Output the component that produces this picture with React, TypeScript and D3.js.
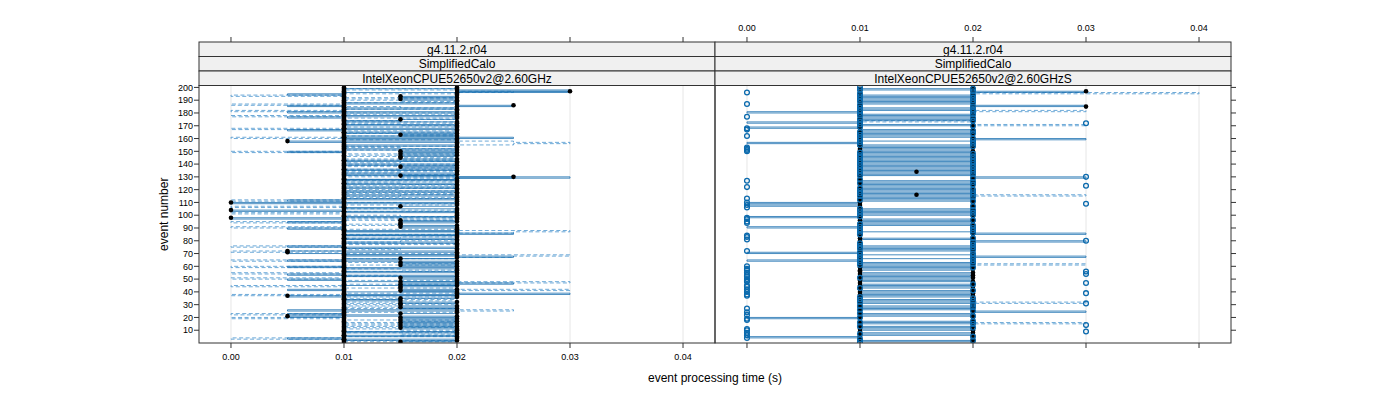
import React from "react";
import * as d3 from "d3";

// ---- data (times in milliseconds, one value per event 1..200) ----
const eventNumbers = d3.range(1, 201);
const xTickValues = [0, 0.01, 0.02, 0.03, 0.04];
const xTickLabels = ["0.00", "0.01", "0.02", "0.03", "0.04"];
const yTickValues = d3.range(10, 201, 10);
const stripVersion = "g4.11.2.r04";
const stripApp = "SimplifiedCalo";
const panelMachines = ["IntelXeonCPUE52650v2@2.60GHz", "IntelXeonCPUE52650v2@2.60GHzS"];

// Left panel, run A (black points + solid line)
const leftRunA = [
  10,10,10,10,10,10,10,10,10,10, 10,10,10,10,10,10,10,10,10,10,
  5,10,10,10,10,10,10,10,10,10, 10,10,10,10,10,10,5,10,10,10,
  10,10,10,10,10,10,10,10,10,10, 10,10,10,10,10,10,10,10,10,10,
  10,10,10,10,10,10,10,10,10,10, 5,5,10,10,10,10,10,10,10,10,
  10,10,10,10,10,10,10,10,10,10, 10,10,10,10,10,10,10,0,10,10,
  10,10,10,0,10,10,10,10,10,0, 10,10,10,10,10,10,10,10,10,10,
  10,10,10,10,10,10,10,10,10,10, 10,10,10,10,10,10,10,10,10,10,
  10,10,10,10,10,10,10,10,10,10, 10,10,10,10,10,10,10,5,10,10,
  10,10,10,10,10,10,10,10,10,10, 10,10,10,10,10,10,10,10,10,10,
  10,10,10,10,10,10,10,10,10,10, 10,10,10,10,10,10,10,10,10,10,
];
// Left panel, run B (black points + solid line)
const leftRunB = [
  15,20,10,20,20,10,20,20,10,20, 20,15,20,15,20,15,20,15,20,15,
  20,10,15,20,20,10,20,15,20,15, 15,20,15,10,15,20,20,10,20,20,
  15,20,15,15,20,15,20,15,20,20, 15,20,10,20,20,10,20,20,10,20,
  15,20,15,20,10,15,20,20,10,20, 20,10,20,20,10,20,20,20,10,20,
  20,10,20,20,10,20,20,10,20,20, 15,20,15,15,20,15,20,20,10,20,
  20,20,10,20,20,10,15,20,20,10, 20,20,10,20,20,10,20,20,10,20,
  20,10,20,20,10,20,20,10,20,25, 15,20,10,20,20,10,20,15,20,10,
  20,20,10,20,15,15,20,15,20,15, 20,10,20,20,10,20,20,10,20,20,
  10,20,15,20,10,20,20,10,20,20, 10,20,20,10,15,20,20,10,20,20,
  10,20,20,10,20,25,20,10,20,20, 15,20,15,20,20,20,30,20,20,20,
];
// Left panel, run C (solid line only)
const leftRunC = [
  10,10,10,5,10,10,10,10,10,10, 10,10,10,10,10,10,10,10,10,10,
  10,10,5,10,10,5,10,10,10,10, 10,10,10,10,10,10,10,20,30,20,
  10,5,10,10,10,20,25,20,10,5, 10,10,10,5,10,10,10,10,10,5,
  10,10,10,10,5,10,20,25,20,10, 10,10,10,10,10,5,10,10,10,10,
  10,10,10,10,20,25,20,10,10,5, 10,10,10,10,5,10,10,10,10,10,
  10,10,10,10,10,10,10,10,10,10, 10,5,10,10,10,10,10,10,10,10,
  10,10,10,10,10,10,10,10,20,30, 20,10,10,10,10,10,10,10,10,10,
  10,10,10,10,10,10,10,10,10,5, 10,10,10,10,10,10,10,10,10,20,
  25,20,10,10,10,10,5,10,10,10, 10,10,10,10,10,10,5,10,10,10,
  5,10,10,10,10,5,10,10,10,10, 10,10,10,10,5,10,20,30,20,10,
];
// Left panel, run D (dashed line only)
const leftRunD = [
  10,20,10,0,10,20,15,20,10,20, 15,10,20,10,20,10,15,20,10,0,
  10,10,0,10,20,25,20,10,15,10, 20,10,15,20,10,20,10,0,10,20,
  20,30,20,10,0,10,20,30,20,10, 0,10,15,10,0,10,20,15,10,0,
  10,20,15,10,0,10,20,25,30,20, 10,0,10,15,10,0,10,20,10,15,
  20,10,15,20,10,20,25,30,20,10, 0,10,15,10,0,10,20,10,20,15,
  10,0,10,20,15,10,0,10,20,15, 10,0,10,20,10,15,20,10,20,10,
  15,20,10,20,15,10,20,10,15,20, 10,20,15,10,20,10,20,15,10,20,
  10,15,20,10,20,15,10,20,10,0, 10,20,15,10,20,25,30,25,20,10,
  0,10,20,15,10,20,10,0,10,20, 15,10,20,10,15,20,10,0,10,20,
  10,0,10,20,15,10,0,10,20,15, 10,20,10,0,10,20,25,20,10,20,
];

// Right panel, open-circle run
const rightOpen = [
  10,20,10,0,20,0,10,0,30,0, 0,20,10,30,20,10,20,0,0,10,
  20,0,10,0,20,10,0,20,10,20, 30,10,20,10,20,10,0,0,30,0,
  20,0,10,0,0,20,30,0,0,0, 10,0,0,30,0,30,0,0,20,0,
  10,20,10,20,10,20,10,20,10,20, 10,0,20,10,20,10,20,10,20,30,
  0,20,0,0,10,20,10,20,10,20, 10,20,10,0,0,20,0,0,10,20,
  10,20,10,20,10,0,20,0,30,0, 20,10,0,20,10,20,10,20,10,20,
  10,0,30,20,10,20,0,10,20,30, 10,20,10,20,10,20,10,20,10,20,
  10,20,10,20,10,20,10,20,10,0, 0,0,0,20,10,20,10,20,10,20,
  10,0,10,20,10,20,0,0,10,20, 10,30,10,20,10,20,0,10,20,10,
  20,10,20,10,20,10,0,20,10,20, 10,20,10,20,10,0,20,10,20,10,
];
// Right panel, filled-point run
const rightFilled = [
  20,10,20,10,10,20,10,20,10,20, 10,10,20,10,10,20,10,20,10,20,
  10,20,10,10,20,10,20,10,20,10, 10,20,10,20,10,10,20,10,20,10,
  20,10,10,20,10,20,10,20,10,10, 20,10,20,10,20,10,10,20,10,20,
  10,20,10,10,20,10,20,10,20,10, 10,20,10,20,10,20,10,10,20,10,
  20,10,20,10,10,20,10,20,10,20, 10,10,20,10,20,10,20,10,10,20,
  10,20,10,20,10,10,20,10,20,10, 20,10,10,20,10,15,20,10,20,10,
  10,20,10,20,10,10,20,10,20,10, 20,10,20,15,10,20,10,20,10,10,
  20,10,20,10,10,20,10,20,10,20, 10,10,20,10,20,10,20,10,10,20,
  10,20,10,20,10,10,20,10,20,10, 20,10,10,20,10,20,10,20,10,20,
  10,20,10,10,30,20,10,20,10,20, 10,10,20,10,20,10,30,20,10,20,
];
// Right panel, solid line run
const rightSolid = [
  10,20,10,10,0,10,20,10,20,20, 10,20,10,20,20,10,20,10,10,0,
  10,20,10,20,30,20,10,20,10,20, 20,10,20,10,20,20,10,20,10,20,
  10,20,20,10,20,10,20,20,10,20, 10,20,10,20,10,20,20,10,20,10,
  20,10,20,10,0,10,20,30,20,10, 0,10,20,10,20,10,20,20,20,30,
  20,10,20,20,20,30,20,10,10,10, 0,10,20,10,20,10,20,10,0,10,
  20,10,20,10,20,10,10,0,10,0, 10,20,10,20,10,20,10,20,10,20,
  10,20,10,20,10,20,10,20,20,30, 20,10,20,10,20,10,20,10,20,10,
  20,10,20,10,20,10,20,10,20,10, 20,10,20,10,20,10,0,10,20,30,
  20,10,20,10,20,10,20,10,0,10, 20,10,0,10,20,10,20,10,20,10,
  0,10,20,10,20,30,20,10,20,10, 20,10,20,10,20,20,30,20,10,20,
];
// Right panel, dashed line run
const rightDashed = [
  20,20,20,20,20,20,20,20,20,20, 20,20,20,20,20,30,20,20,20,20,
  20,20,20,20,20,20,20,20,20,20, 20,30,20,20,20,20,20,20,20,20,
  20,20,20,20,20,20,20,20,20,20, 20,20,20,20,20,20,20,20,20,20,
  20,30,20,20,20,20,20,20,20,20, 20,20,20,20,20,20,20,20,20,20,
  20,20,20,20,20,20,20,20,20,20, 20,20,20,20,20,20,20,20,20,20,
  20,20,20,20,20,20,20,20,20,20, 20,20,20,20,20,30,20,20,20,20,
  20,20,20,20,20,20,20,20,20,20, 20,20,20,20,20,20,20,20,20,20,
  20,20,20,20,20,20,20,20,20,20, 20,20,20,20,20,20,20,20,20,20,
  20,20,20,20,20,20,20,20,20,20, 30,20,20,10,20,20,20,20,20,20,
  20,30,20,20,20,20,20,20,20,20, 20,20,20,20,20,40,20,20,20,20,
];

// ---- layout ----
const FONT = "'Liberation Sans', Arial, Helvetica, sans-serif";
const PANEL_LEFTS = [199, 715];
const PW = 516;
const PT = 85.5;
const PB = 343;
const STRIP_TOP = 42;
const STRIP_H = (PT - STRIP_TOP) / 3;
const LINE_COLOR = "#1a6fb0";
const DASH_COLOR = "#3d8ecb";
const AXIS = "#333";

export default function App() {
  const x = d3.scaleLinear().domain([-0.00283, 0.04283]).range([0, PW]);
  const y = d3.scaleLinear().domain([0, 201.5]).range([PB, PT]);
  const lineGen = d3
    .line<number>()
    .x((d) => x(d / 1000))
    .y((_d, i) => y(eventNumbers[i]))
    .curve(d3.curveStepAfter);

  const solidPath = (vals: number[], key: string) => (
    <path key={key} d={lineGen(vals) || ""} fill="none" stroke={LINE_COLOR} strokeOpacity={0.8} strokeWidth={1} />
  );
  const dashedPath = (vals: number[], key: string) => (
    <path key={key} d={lineGen(vals) || ""} fill="none" stroke={DASH_COLOR} strokeOpacity={0.75} strokeWidth={1} strokeDasharray="4 2.5" />
  );
  const filledDots = (vals: number[], key: string) => (
    <g key={key}>
      {vals.map((v, i) => (
        <circle key={i} cx={x(v / 1000)} cy={y(eventNumbers[i])} r={2.3} fill="#000" />
      ))}
    </g>
  );
  const openDots = (vals: number[], key: string) => (
    <g key={key}>
      {vals.map((v, i) => (
        <circle key={i} cx={x(v / 1000)} cy={y(eventNumbers[i])} r={2.4} fill="none" stroke="#0b6aad" strokeWidth={1.3} />
      ))}
    </g>
  );

  const panelContent = [
    [dashedPath(leftRunD, "d"), solidPath(leftRunC, "c"), solidPath(leftRunA, "a"), solidPath(leftRunB, "b"), filledDots(leftRunA, "pa"), filledDots(leftRunB, "pb")],
    [dashedPath(rightDashed, "d"), solidPath(rightSolid, "s"), filledDots(rightFilled, "pf"), openDots(rightOpen, "po")],
  ];

  return (
    <div style={{ position: "absolute", left: 0, top: 0 }}>
      <svg width={1400} height={400} style={{ display: "block", background: "#fff" }} fontFamily={FONT}>
        <defs>
          {PANEL_LEFTS.map((_l, p) => (
            <clipPath id={`clip${p}`} key={p}>
              <rect x={0} y={PT} width={PW} height={PB - PT} />
            </clipPath>
          ))}
        </defs>
        {PANEL_LEFTS.map((left, p) => (
          <g key={p} transform={`translate(${left},0)`}>
            {xTickValues.map((t) => (
              <line key={t} x1={x(t)} x2={x(t)} y1={PT} y2={PB} stroke="#e6e6e6" strokeWidth={1} />
            ))}
            <g clipPath={`url(#clip${p})`}>{panelContent[p]}</g>
            {[stripVersion, stripApp, panelMachines[p]].map((label, k) => (
              <g key={k}>
                <rect x={0} y={STRIP_TOP + k * STRIP_H} width={PW} height={STRIP_H} fill="#f0f0f0" stroke={AXIS} strokeWidth={1} />
                <text x={PW / 2} y={STRIP_TOP + k * STRIP_H + STRIP_H / 2 + 4.3} textAnchor="middle" fontSize={12} fill="#000">
                  {label}
                </text>
              </g>
            ))}
            <rect x={0} y={PT} width={PW} height={PB - PT} fill="none" stroke={AXIS} strokeWidth={1} />
            {xTickValues.map((t, k) => (
              <g key={t}>
                <line x1={x(t)} x2={x(t)} y1={STRIP_TOP} y2={STRIP_TOP - 5} stroke={AXIS} />
                {p === 1 && (
                  <text x={x(t)} y={31} textAnchor="middle" fontSize={9} fill="#000">
                    {xTickLabels[k]}
                  </text>
                )}
              </g>
            ))}
            {xTickValues.map((t, k) => (
              <g key={t}>
                <line x1={x(t)} x2={x(t)} y1={PB} y2={PB + 5} stroke={AXIS} />
                {p === 0 && (
                  <text x={x(t)} y={360} textAnchor="middle" fontSize={9} fill="#000">
                    {xTickLabels[k]}
                  </text>
                )}
              </g>
            ))}
            {yTickValues.map((t) =>
              p === 0 ? (
                <g key={t}>
                  <line x1={0} x2={-5} y1={y(t)} y2={y(t)} stroke={AXIS} />
                  <text x={-6} y={y(t) + 3.2} textAnchor="end" fontSize={9} fill="#000">
                    {t}
                  </text>
                </g>
              ) : (
                <line key={t} x1={PW} x2={PW + 5} y1={y(t)} y2={y(t)} stroke={AXIS} />
              )
            )}
          </g>
        ))}
        <text x={715} y={382} textAnchor="middle" fontSize={12} fill="#000">
          event processing time (s)
        </text>
        <text transform={`translate(168,${(PT + PB) / 2}) rotate(-90)`} textAnchor="middle" fontSize={12} fill="#000">
          event number
        </text>
      </svg>
    </div>
  );
}
